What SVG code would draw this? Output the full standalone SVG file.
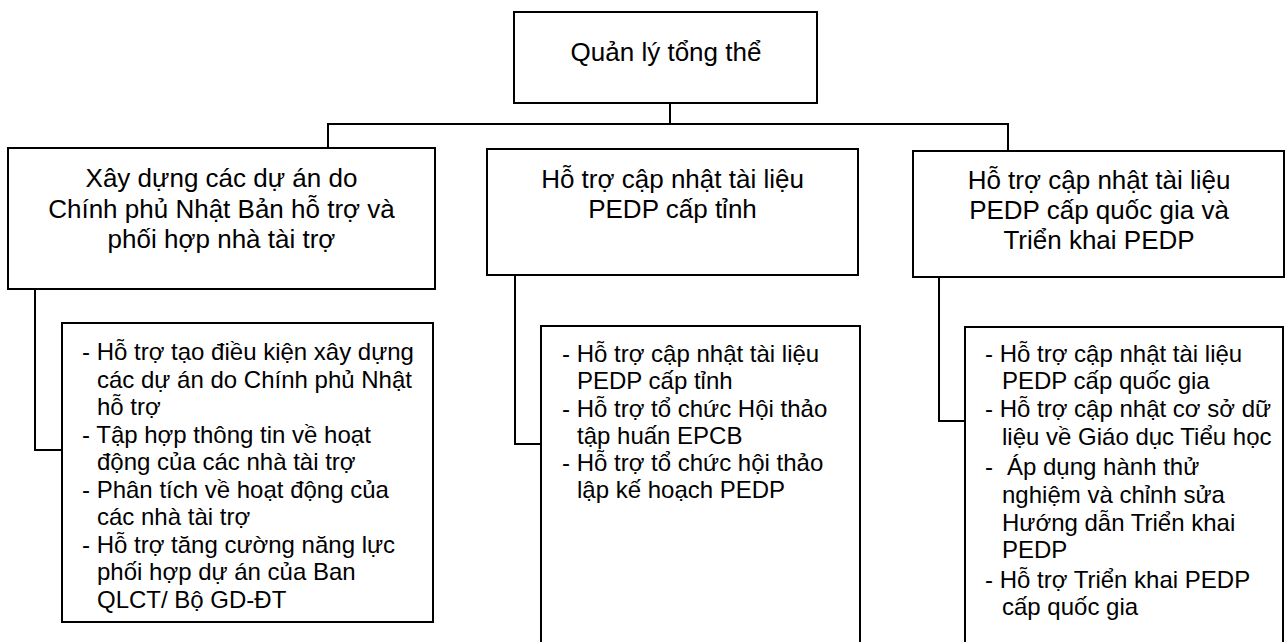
<svg xmlns="http://www.w3.org/2000/svg" width="1286" height="642" viewBox="0 0 1286 642">
  <style>
    .box { fill: #ffffff; stroke: #000000; stroke-width: 2; }
    .wire { fill: none; stroke: #000000; stroke-width: 2; }
    .title { font-family: "Liberation Sans", Arial, "DejaVu Sans", sans-serif; font-size: 26px; fill: #000000; text-anchor: middle; }
    .item { font-family: "Liberation Sans", Arial, "DejaVu Sans", sans-serif; font-size: 24px; fill: #000000; }
  </style>
  <rect x="0" y="0" width="1286" height="642" fill="#ffffff"/>

  <!-- connectors -->
  <g id="connectors">
    <polyline class="wire" points="670,103 670,124"/>
    <polyline class="wire" points="328,148 328,124 1008,124 1008,151"/>
    <polyline class="wire" points="35,289 35,450 62,450"/>
    <polyline class="wire" points="515,275 515,444 541,444"/>
    <polyline class="wire" points="939,277 939,421 965,421"/>
  </g>

  <!-- root -->
  <g id="root">
    <rect class="box" x="514" y="12" width="303" height="91"/>
    <text class="title" x="666" y="61">Quản lý tổng thể</text>
  </g>

  <!-- branch headers -->
  <g id="branch-donor">
    <rect class="box" x="8" y="148" width="427" height="141"/>
    <text class="title" x="221.5" y="187">Xây dựng các dự án do</text>
    <text class="title" x="221.5" y="218">Chính phủ Nhật Bản hỗ trợ và</text>
    <text class="title" x="221.5" y="248">phối hợp nhà tài trợ</text>
  </g>
  <g id="branch-province">
    <rect class="box" x="487" y="149" width="371" height="126"/>
    <text class="title" x="672.5" y="188">Hỗ trợ cập nhật tài liệu</text>
    <text class="title" x="672.5" y="218">PEDP cấp tỉnh</text>
  </g>
  <g id="branch-national">
    <rect class="box" x="913" y="151" width="371" height="126"/>
    <text class="title" x="1099" y="189">Hỗ trợ cập nhật tài liệu</text>
    <text class="title" x="1099" y="219">PEDP cấp quốc gia và</text>
    <text class="title" x="1099" y="249">Triển khai PEDP</text>
  </g>

  <!-- task lists -->
  <g id="tasks-donor">
    <rect class="box" x="62" y="323" width="371" height="299"/>
    <text class="item" x="82" y="360">- Hỗ trợ tạo điều kiện xây dựng</text>
    <text class="item" x="97" y="387.5">các dự án do Chính phủ Nhật</text>
    <text class="item" x="97" y="415">hỗ trợ</text>
    <text class="item" x="82" y="442.5">- Tập hợp thông tin về hoạt</text>
    <text class="item" x="97" y="470">động của các nhà tài trợ</text>
    <text class="item" x="82" y="497.5">- Phân tích về hoạt động của</text>
    <text class="item" x="97" y="525">các nhà tài trợ</text>
    <text class="item" x="82" y="552.5">- Hỗ trợ tăng cường năng lực</text>
    <text class="item" x="97" y="580">phối hợp dự án của Ban</text>
    <text class="item" x="97" y="607.5">QLCT/ Bộ GD-ĐT</text>
  </g>
  <g id="tasks-province">
    <rect class="box" x="541" y="326" width="319" height="330"/>
    <text class="item" x="562" y="362">- Hỗ trợ cập nhật tài liệu</text>
    <text class="item" x="577" y="389">PEDP cấp tỉnh</text>
    <text class="item" x="562" y="417">- Hỗ trợ tổ chức Hội thảo</text>
    <text class="item" x="577" y="444">tập huấn EPCB</text>
    <text class="item" x="562" y="471">- Hỗ trợ tổ chức hội thảo</text>
    <text class="item" x="577" y="498">lập kế hoạch PEDP</text>
  </g>
  <g id="tasks-national">
    <rect class="box" x="965" y="327" width="318" height="330"/>
    <text class="item" x="985" y="362">- Hỗ trợ cập nhật tài liệu</text>
    <text class="item" x="1002" y="389">PEDP cấp quốc gia</text>
    <text class="item" x="985" y="417">- Hỗ trợ cập nhật cơ sở dữ</text>
    <text class="item" x="1002" y="445">liệu về Giáo dục Tiểu học</text>
    <text class="item" x="985" y="475">-</text>
    <text class="item" x="1007" y="475">Áp dụng hành thử</text>
    <text class="item" x="1002" y="503">nghiệm và chỉnh sửa</text>
    <text class="item" x="1002" y="531">Hướng dẫn Triển khai</text>
    <text class="item" x="1002" y="558">PEDP</text>
    <text class="item" x="985" y="588">- Hỗ trợ Triển khai PEDP</text>
    <text class="item" x="1002" y="615">cấp quốc gia</text>
  </g>
</svg>
